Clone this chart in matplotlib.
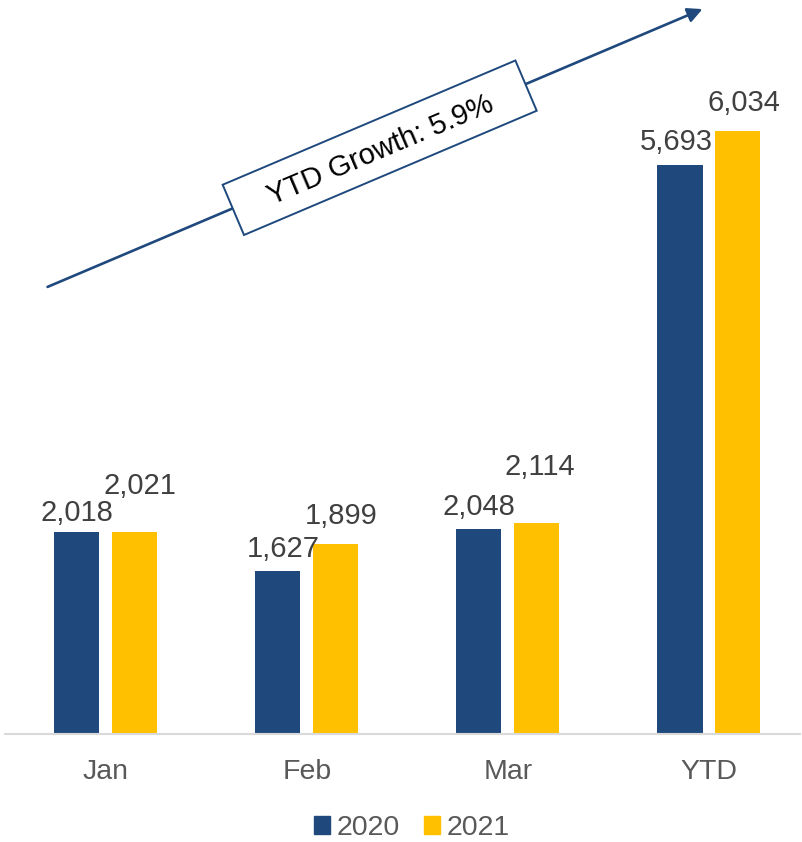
import matplotlib
matplotlib.use("Agg")
import matplotlib.pyplot as plt
from matplotlib.patches import Patch, FancyArrowPatch, Rectangle
from matplotlib.transforms import IdentityTransform
import numpy as np

categories = ["Jan", "Feb", "Mar", "YTD"]
values_2020 = [2018, 1627, 2048, 5693]
values_2021 = [2021, 1899, 2114, 6034]
series_names = ["2020", "2021"]
annotation_text = "YTD Growth: 5.9%"

plt.rcParams['font.family'] = ['Liberation Sans', 'DejaVu Sans']

W, H = 802, 842
fig = plt.figure(figsize=(W / 100, H / 100), dpi=100)
ax = fig.add_axes([5 / W, (H - 734) / H, 795 / W, 734 / H])

blue = "#1F497D"
yellow = "#FFC000"
x = np.arange(len(categories))
bw = 0.224
off = 0.144

ax.bar(x - off, values_2020, bw, color=blue, zorder=2)
ax.bar(x + off, values_2021, bw, color=yellow, zorder=2)

ax.set_xlim(-0.502, 3.453)
ax.set_ylim(0, 7340)

# label offsets in points (dx, dy)
off20 = [(0, 14), (4, 16), (0, 16), (-3, 16)]
off21 = [(4, 33), (4, 20), (2, 40), (4, 20)]
for i in range(len(categories)):
    ax.annotate(f"{values_2020[i]:,}", (x[i] - off, values_2020[i]),
                xytext=off20[i], textcoords="offset points",
                ha="center", va="center", fontsize=21, color="#404040")
    ax.annotate(f"{values_2021[i]:,}", (x[i] + off, values_2021[i]),
                xytext=off21[i], textcoords="offset points",
                ha="center", va="center", fontsize=21, color="#404040")

for s in ["top", "right", "left"]:
    ax.spines[s].set_visible(False)
ax.spines["bottom"].set_color("#D9D9D9")
ax.spines["bottom"].set_linewidth(1.5)
ax.set_yticks([])
ax.set_xticks(x)
ax.set_xticklabels(categories, fontsize=20.5, color="#595959")
ax.tick_params(axis="x", length=0, pad=18)

# growth arrow in figure pixels
arrow = FancyArrowPatch((45, H - 288), (705, H - 8), transform=IdentityTransform(),
                        arrowstyle="-|>", mutation_scale=22,
                        color=blue, linewidth=1.9, zorder=5)
fig.patches.append(arrow)

# rotated label box
ang = 23.0
bx0, by0, bwid, bhei = 244, H - 235, 318, 54.6
rect = Rectangle((bx0, by0), bwid, bhei, angle=ang, transform=IdentityTransform(),
                 facecolor="white", edgecolor=blue, linewidth=1.4, zorder=6)
fig.patches.append(rect)
t = np.deg2rad(ang)
cx = bx0 + (bwid * np.cos(t) - bhei * np.sin(t)) / 2
cy = by0 + (bwid * np.sin(t) + bhei * np.cos(t)) / 2
fig.text(cx / W, cy / H, annotation_text, rotation=ang,
         rotation_mode="anchor", ha="center", va="center_baseline",
         fontsize=21, color="black", zorder=7)

handles = [Patch(color=blue), Patch(color=yellow)]
fig.legend(handles, series_names, loc="center",
           bbox_to_anchor=(412 / W, 14 / H), ncol=2, frameon=False,
           fontsize=20.5, labelcolor="#595959",
           handlelength=0.55, handleheight=0.55, handletextpad=0.25,
           columnspacing=0.85, borderpad=0)

fig.savefig("out.png", dpi=100)
